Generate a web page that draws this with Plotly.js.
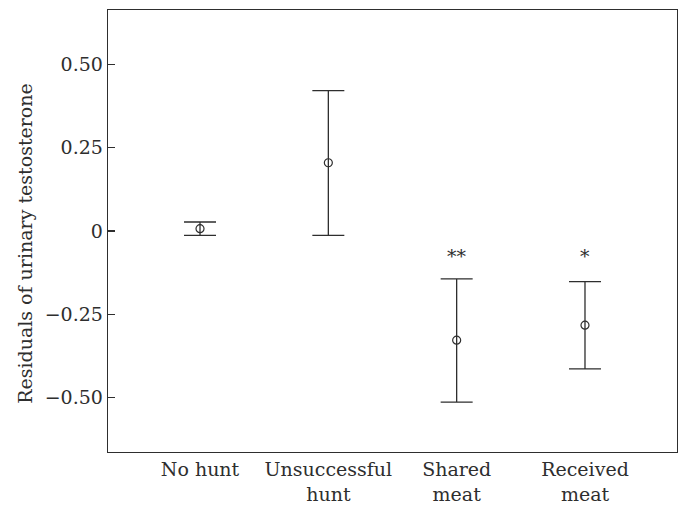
<!DOCTYPE html>
<html>
<head>
<meta charset="utf-8">
<script src="https://cdn.plot.ly/plotly-3.0.1.min.js"></script>
<style>html,body{margin:0;padding:0;background:#fff;}#chart{width:678px;height:505px;}</style>
</head>
<body>
<div id="chart"></div>
<script>
const categories = ["No hunt", "Unsuccessful<br>hunt", "Shared<br>meat", "Received<br>meat"];
const means = [0.007, 0.205, -0.328, -0.283];
const upper = [0.027, 0.422, -0.144, -0.152];
const lower = [-0.013, -0.013, -0.514, -0.414];
const significance = ["", "", "**", "*"];
const starY = -0.063;
const yTickVals = [-0.5, -0.25, 0, 0.25, 0.5];
const yTickText = ["\u22120.50", "\u22120.25", "0", "0.25", "0.50"];

const errPlus = means.map((m, i) => upper[i] - m);
const errMinus = means.map((m, i) => m - lower[i]);

const ink = "#2e2e2e";
const fontFam = "DejaVu Serif, serif";

const trace = {
  type: "scatter",
  mode: "markers",
  x: categories,
  y: means,
  marker: {symbol: "circle-open", size: 8, color: ink, line: {width: 1.2, color: ink}},
  error_y: {type: "data", symmetric: false, array: errPlus, arrayminus: errMinus,
            color: ink, thickness: 1.3, width: 16},
  hoverinfo: "skip",
  showlegend: false
};

const annotations = [];
significance.forEach((s, i) => {
  if (s) annotations.push({x: categories[i], y: starY, xref: "x", yref: "y", text: s,
    showarrow: false, xanchor: "center", yanchor: "middle", yshift: -4,
    font: {family: fontFam, size: 19, color: ink}});
});
annotations.push({x: -0.146, y: 0.473, xref: "paper", yref: "paper",
  text: "Residuals of urinary testosterone", textangle: -90, showarrow: false,
  xanchor: "center", yanchor: "middle", font: {family: fontFam, size: 19, color: ink}});

const layout = {
  width: 678, height: 505,
  margin: {l: 108, r: 1, t: 10, b: 53},
  paper_bgcolor: "#fff", plot_bgcolor: "#fff",
  font: {family: fontFam, size: 19, color: ink},
  xaxis: {type: "category", categoryorder: "array", categoryarray: categories,
    range: [-0.717, 3.717], showgrid: false, zeroline: false,
    showline: true, mirror: true, linecolor: ink, linewidth: 1.3,
    ticks: "", tickfont: {family: fontFam, size: 19, color: ink}, fixedrange: true},
  yaxis: {range: [-0.664, 0.664], tickvals: yTickVals, ticktext: yTickText,
    showgrid: false, zeroline: false, showline: true, mirror: true,
    linecolor: ink, linewidth: 1.3, ticks: "inside", ticklen: 7, tickwidth: 1.2,
    tickcolor: ink, tickfont: {family: fontFam, size: 19, color: ink}, fixedrange: true},
  annotations: annotations
};

Plotly.newPlot("chart", [trace], layout, {displayModeBar: false, staticPlot: true});
</script>
</body>
</html>
